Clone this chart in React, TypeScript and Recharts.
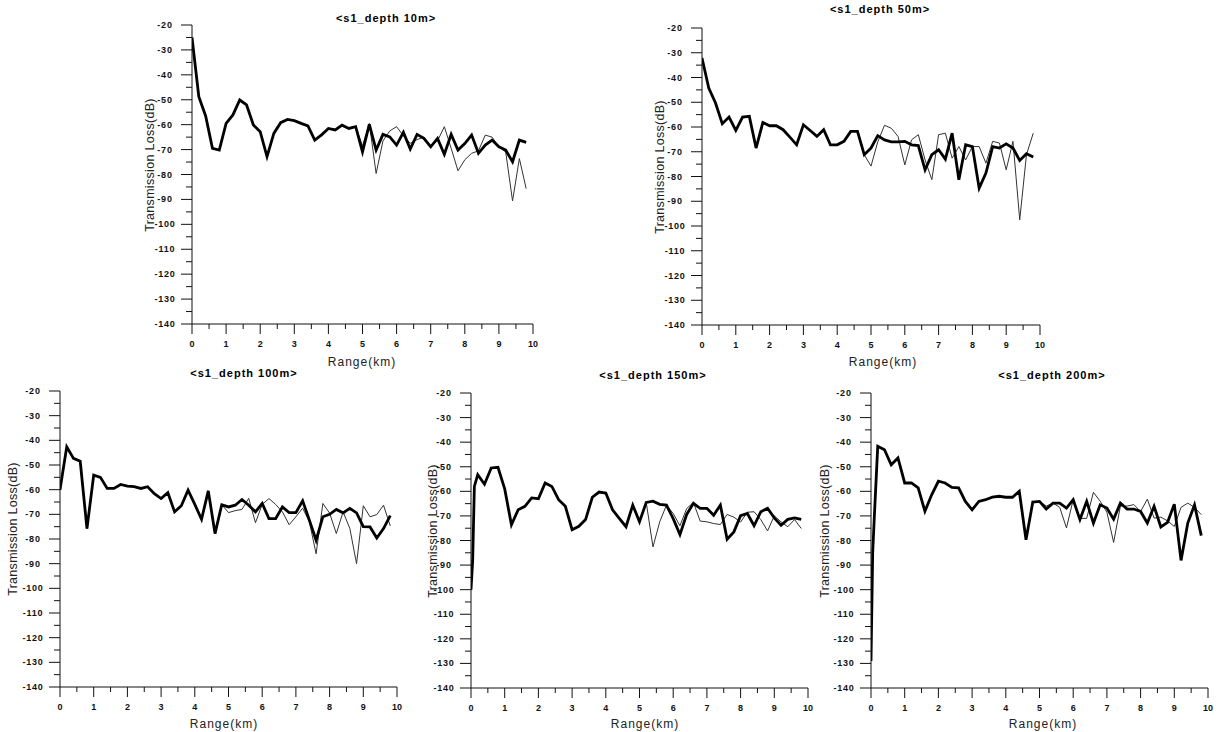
import React from "react";
import { LineChart, Line, XAxis, YAxis } from "recharts";

// range samples (km)
const RANGE = [
  0, 0.2, 0.4, 0.6, 0.8, 1.0, 1.2, 1.4, 1.6, 1.8, 2.0, 2.2, 2.4, 2.6, 2.8, 3.0, 3.2, 3.4, 3.6, 3.8,
  4.0, 4.2, 4.4, 4.6, 4.8, 5.0, 5.2, 5.4, 5.6, 5.8, 6.0, 6.2, 6.4, 6.6, 6.8, 7.0, 7.2, 7.4, 7.6, 7.8,
  8.0, 8.2, 8.4, 8.6, 8.8, 9.0, 9.2, 9.4, 9.6, 9.8,
];
// deeper sources have a steep rise right at the start, sampled finer
const RANGE_NEAR = [
  0, 0.05, 0.1, 0.2, 0.4, 0.6, 0.8, 1.0, 1.2, 1.4, 1.6, 1.8, 2.0, 2.2, 2.4, 2.6, 2.8, 3.0, 3.2, 3.4, 3.6, 3.8,
  4.0, 4.2, 4.4, 4.6, 4.8, 5.0, 5.2, 5.4, 5.6, 5.8, 6.0, 6.2, 6.4, 6.6, 6.8, 7.0, 7.2, 7.4, 7.6, 7.8,
  8.0, 8.2, 8.4, 8.6, 8.8, 9.0, 9.2, 9.4, 9.6, 9.8,
];

const X_TICKS = [0, 0.5, 1, 1.5, 2, 2.5, 3, 3.5, 4, 4.5, 5, 5.5, 6, 6.5, 7, 7.5, 8, 8.5, 9, 9.5, 10];
const Y_TICKS = [
  -140, -135, -130, -125, -120, -115, -110, -105, -100, -95, -90, -85, -80, -75, -70, -65, -60, -55,
  -50, -45, -40, -35, -30, -25, -20,
];

// depth 10m
const D10_THICK = [
  -25, -48.8, -56.5, -69.5, -70.2, -59.5, -56.1, -50.1, -52.1, -60.1, -62.8, -72.8, -63.5, -59.2, -57.9, -58.4, -59.5, -60.5, -66.2, -64.1,
  -61.5, -62.1, -60.2, -61.5, -60.8, -70.9, -59.9, -70.2, -63.9, -64.9, -68.2, -63.1, -69.8, -63.9, -65.5, -68.9, -65.5, -71.9, -63.9, -70.2,
  -67.6, -64.2, -71.5, -68.2, -66.2, -68.9, -70.2, -74.9, -66.2, -67.1,
];
const D10_THIN = [
  -25, -48.8, -56.5, -69.5, -70.2, -59.5, -56.1, -50.1, -52.1, -60.1, -62.8, -72.8, -63.5, -59.2, -57.9, -58.4, -59.5, -60.5, -66.2, -64.1,
  -61.5, -62.1, -60.2, -61.5, -60.8, -68.5, -59.5, -79.6, -66.5, -62.5, -60.8, -64.5, -67.5, -66, -65, -68.5, -66.5, -60.8, -69.5, -78.5,
  -74.1, -71.5, -70.5, -64.2, -65, -68.9, -71, -90.6, -73.6, -85.7,
];

// depth 50m
const D50_THICK = [
  -32.1, -44.3, -50.3, -58.7, -56, -61.4, -56, -55.7, -68.5, -58.2, -59.5, -59.5, -61.1, -64.1, -67.2, -59.1, -61.4, -63.8, -61.1, -67.2,
  -67.2, -65.8, -61.8, -61.8, -71.2, -68.5, -63.5, -65.2, -66, -66, -65.8, -67.2, -67.5, -77.3, -71.2, -69.2, -73, -62.5, -81.3, -67.2,
  -67.9, -84.7, -78.6, -67.9, -68.5, -66.8, -68.5, -73.5, -70.8, -72.1,
];
const D50_THIN = [
  -32.1, -44.3, -50.3, -58.7, -56, -61.4, -56, -55.7, -68.5, -58.2, -59.5, -59.5, -61.1, -64.1, -67.2, -59.1, -61.4, -63.8, -61.1, -67.2,
  -67.2, -65.8, -61.8, -61.8, -71.2, -75.8, -66, -59.3, -60.5, -63.8, -75.3, -65.2, -63.1, -73.3, -81.3, -63.1, -62.5, -72.6, -67.9, -73.3,
  -67.9, -67.9, -74.6, -65.8, -66.5, -77.3, -65.8, -97.5, -71.2, -62.5,
];

// depth 100m
const D100_THICK = [
  -60, -42.6, -47.3, -48.5, -75.8, -54.1, -55, -59.5, -59.5, -57.9, -58.6, -58.8, -59.5, -58.8, -61.6, -63.6, -61.2, -69, -66.5, -60.2,
  -66, -72, -60.5, -77.8, -66.1, -67, -66.3, -64, -66.3, -69, -65.6, -71.7, -71.7, -67, -69.3, -69.3, -64.5, -72.4, -80.5, -71,
  -70, -68, -69.4, -67.6, -69.4, -75, -75.1, -79.6, -75.8, -70.5,
];
const D100_THIN = [
  -60, -42.6, -47.3, -48.5, -75.8, -54.1, -55, -59.5, -59.5, -57.9, -58.6, -58.8, -59.5, -58.8, -61.6, -63.6, -61.2, -69, -66.5, -60.2,
  -66, -72, -60.5, -77.8, -66.1, -69.3, -68.5, -68, -63.5, -73.4, -66, -63.6, -66, -69, -74.2, -71, -67.5, -73, -86, -65.6,
  -69.5, -77.8, -69, -75.7, -90, -66.5, -71, -70.1, -66.3, -74.7,
];

// depth 150m
const D150_THICK = [
  -100, -88, -58, -53.2, -57.1, -50.5, -50.2, -59, -73.6, -67.5, -66.1, -62.7, -63, -56.6, -58, -63.4, -66.1, -75.6, -74.2, -71.5, -62.4, -60.3,
  -60.7, -67.5, -71, -74.4, -65.6, -72.4, -64.5, -64, -65.3, -65.6, -71.1, -77.6, -69.4, -64.9, -66.9, -66.9, -69.7, -65.6, -79.5, -76.5,
  -69.9, -69, -74, -68.3, -66.9, -70.8, -73.8, -71.4, -70.8, -71.4,
];
const D150_THIN = [
  -100, -88, -58, -53.2, -57.1, -50.5, -50.2, -59, -73.6, -67.5, -66.1, -62.7, -63, -56.6, -58, -63.4, -66.1, -75.6, -74.2, -71.5, -62.4, -60.3,
  -60.7, -67.5, -71, -74.4, -65.6, -72.4, -64.5, -82.6, -72.4, -65.6, -69, -74, -67, -64.5, -72.1, -72.4, -73.1, -73.5, -69.4, -70.5,
  -72.5, -68.5, -68.3, -71.5, -76.1, -70, -72.4, -74.4, -71.5, -75.1,
];

// depth 200m
const D200_THICK = [
  -129, -85, -70, -41.7, -43.1, -49.2, -46.4, -56.6, -56.6, -58.6, -68.1, -61.4, -55.9, -56.6, -58.4, -58.6, -64.1, -67.5, -64.1, -63.4, -62.4, -62,
  -62.4, -62.4, -60, -79.7, -64.4, -64.1, -67.2, -64.8, -64.8, -66.8, -63.4, -71.5, -64.1, -72.9, -65.5, -66.8, -71.3, -64.8, -67.2, -67.2,
  -68.2, -72.9, -66.1, -74.5, -72.6, -65.2, -88.1, -72.9, -65.5, -78,
];
const D200_THIN = [
  -129, -85, -70, -41.7, -43.1, -49.2, -46.4, -56.6, -56.6, -58.6, -68.1, -61.4, -55.9, -56.6, -58.4, -58.6, -64.1, -67.5, -64.1, -63.4, -62.4, -62,
  -62.4, -62.4, -60, -79.7, -64.4, -64.1, -66, -64.8, -66.5, -74.9, -63.4, -71, -71, -60.4, -64, -68.5, -80.8, -66, -66, -65.4,
  -68.2, -63.2, -70.9, -70.5, -72, -74.3, -66.5, -64.8, -66.5, -69.5,
];

const FONT = "'Liberation Sans', Arial, sans-serif";

// plot rectangle in page pixels, plus where the loose texts sit
const PANELS = [
  { title: "<s1_depth 10m>", range: RANGE, thick: D10_THICK, thin: D10_THIN,
    px: 192, py: 25, pw: 341, ph: 299, titleX: 386, titleY: 18, xLabX: 362, xLabY: 362, yLabX: 150 },
  { title: "<s1_depth 50m>", range: RANGE, thick: D50_THICK, thin: D50_THIN,
    px: 702, py: 28, pw: 338, ph: 297, titleX: 880, titleY: 9, xLabX: 883, xLabY: 362, yLabX: 660 },
  { title: "<s1_depth 100m>", range: RANGE, thick: D100_THICK, thin: D100_THIN,
    px: 60, py: 391, pw: 337, ph: 296, titleX: 244, titleY: 373, xLabX: 224, xLabY: 724, yLabX: 13 },
  { title: "<s1_depth 150m>", range: RANGE_NEAR, thick: D150_THICK, thin: D150_THIN,
    px: 471, py: 393, pw: 337, ph: 295, titleX: 653, titleY: 375, xLabX: 645, xLabY: 724, yLabX: 433 },
  { title: "<s1_depth 200m>", range: RANGE_NEAR, thick: D200_THICK, thin: D200_THIN,
    px: 871, py: 393, pw: 337, ph: 295, titleX: 1052, titleY: 375, xLabX: 1043, xLabY: 724, yLabX: 825 },
];

const XTick = (props: any) => {
  const { x, y, payload } = props;
  const v = payload.value;
  const major = Number.isInteger(v);
  return (
    <g>
      <line x1={x} x2={x} y1={y} y2={y + (major ? 10 : 5)} stroke="#111" strokeWidth={1} />
      {major && (
        <text x={x} y={y + 23} textAnchor="middle" fontSize={9} fontWeight="bold" fontFamily={FONT} fill="#111">
          {v}
        </text>
      )}
    </g>
  );
};

const YTick = (props: any) => {
  const { x, y, payload } = props;
  const v = payload.value;
  const major = v % 10 === 0;
  return (
    <g>
      <line x1={x} x2={x - (major ? 11 : 6)} y1={y} y2={y} stroke="#111" strokeWidth={1} />
      {major && (
        <text x={x - 27} y={y + 3} textAnchor="middle" fontSize={9} fontWeight="bold" fontFamily={FONT} fill="#111" letterSpacing={0.8}>
          {v}
        </text>
      )}
    </g>
  );
};

function Panel({ p }: { p: (typeof PANELS)[number] }) {
  const rows = p.range.map((r, i) => ({ r, thick: p.thick[i], thin: p.thin[i] }));
  const yLabY = p.py + p.ph / 2 - 10;
  return (
    <>
      <div style={{ position: "absolute", left: p.px - 60, top: p.py - 20 }}>
        <LineChart width={p.pw + 80} height={p.ph + 65} data={rows} margin={{ top: 20, right: 20, left: 0, bottom: 0 }}>
          <XAxis
            dataKey="r"
            type="number"
            domain={[0, 10]}
            ticks={X_TICKS}
            interval={0}
            height={45}
            tickSize={0}
            tickMargin={0}
            tickLine={false}
            axisLine={{ stroke: "#111", strokeWidth: 1 }}
            tick={(t: any) => <XTick {...t} />}
            allowDataOverflow
          />
          <YAxis
            type="number"
            domain={[-140, -20]}
            ticks={Y_TICKS}
            interval={0}
            width={60}
            tickSize={0}
            tickMargin={0}
            tickLine={false}
            axisLine={{ stroke: "#111", strokeWidth: 1 }}
            tick={(t: any) => <YTick {...t} />}
            allowDataOverflow
          />
          <Line type="linear" dataKey="thin" stroke="#333" strokeWidth={1} dot={false} isAnimationActive={false} />
          <Line type="linear" dataKey="thick" stroke="#000" strokeWidth={2.8} dot={false} isAnimationActive={false} />
        </LineChart>
      </div>
      <div
        style={{
          position: "absolute", left: p.titleX, top: p.titleY, transform: "translate(-50%, -50%)",
          whiteSpace: "nowrap", fontFamily: FONT, fontWeight: "bold", fontSize: 11, letterSpacing: 1, color: "#000",
        }}
      >
        {p.title}
      </div>
      <div
        style={{
          position: "absolute", left: p.xLabX, top: p.xLabY, transform: "translate(-50%, -50%)",
          whiteSpace: "nowrap", fontFamily: FONT, fontSize: 12, letterSpacing: 1, color: "#222",
        }}
      >
        Range(km)
      </div>
      <div
        style={{
          position: "absolute", left: p.yLabX, top: yLabY, transform: "translate(-50%, -50%) rotate(-90deg)",
          whiteSpace: "nowrap", fontFamily: FONT, fontSize: 12.5, letterSpacing: 0.3, color: "#222",
        }}
      >
        Transmission Loss(dB)
      </div>
    </>
  );
}

export default function App() {
  return (
    <div style={{ position: "absolute", left: 0, top: 0, width: 1226, height: 732, background: "#fff", overflow: "hidden" }}>
      {PANELS.map((p) => (
        <Panel key={p.title} p={p} />
      ))}
    </div>
  );
}
